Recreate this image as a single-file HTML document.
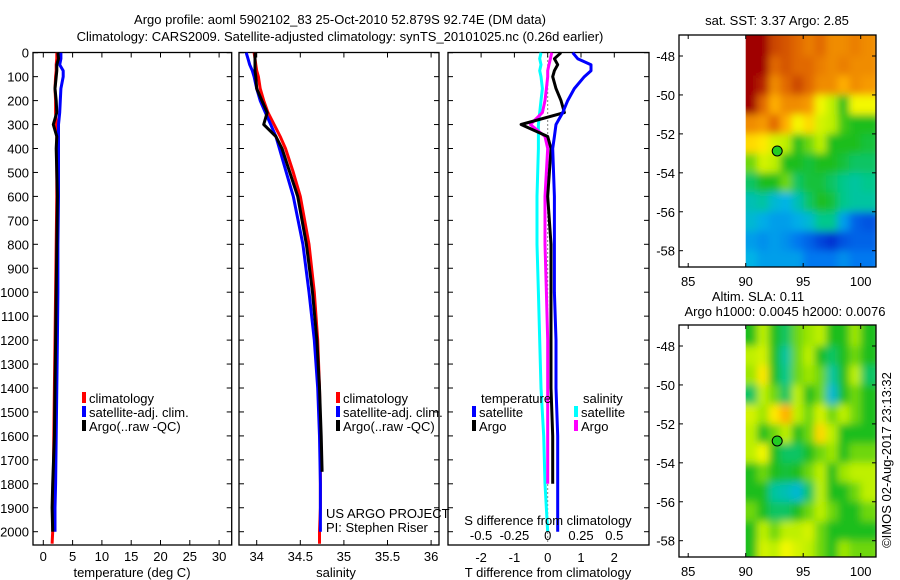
<!DOCTYPE html>
<html><head><meta charset="utf-8"><style>
body{margin:0;background:#fff}
svg{display:block;font-family:"Liberation Sans",sans-serif;font-size:13px}
</style></head><body>
<svg id="c" width="900" height="580" viewBox="0 0 900 580">
<defs>
<clipPath id="cp1"><rect x="745.7" y="35" width="130.3" height="232"/></clipPath>
<clipPath id="cp2"><rect x="745.7" y="325" width="130.3" height="232"/></clipPath>
<filter id="bl" x="-20%" y="-20%" width="140%" height="140%"><feGaussianBlur stdDeviation="4"/></filter>
</defs>
<text x="340" y="24" text-anchor="middle">Argo profile: aoml 5902102_83 25-Oct-2010 52.879S 92.74E (DM data)</text>
<text x="340" y="41" text-anchor="middle">Climatology: CARS2009. Satellite-adjusted climatology: synTS_20101025.nc (0.26d earlier)</text>
<g id="g"></g>
</svg>
<script>
const depths=[0,25,50,75,100,150,200,250,300,350,400,500,600,800,1000,1200,1400,1600,1800,1900,2000,2050];
const climT=[2.3,2.3,2.2,2.2,2.1,2.0,2.1,2.1,2.2,2.3,2.3,2.3,2.3,2.2,2.1,2.0,1.9,1.8,1.7,1.6,1.6,1.5];
const satT=[3.0,3.0,2.8,3.4,3.4,3.0,2.9,2.8,2.6,2.6,2.6,2.6,2.6,2.5,2.5,2.4,2.3,2.2,2.1,2.0,2.0];
const argoT=[2.5,2.6,2.3,2.3,2.2,2.0,2.2,2.3,1.7,2.3,2.2,2.3,2.4,2.3,2.2,2.1,2.0,1.9,1.6,1.5,1.6];
const climS=[33.97,33.98,33.99,34.0,34.02,34.04,34.08,34.13,34.2,34.27,34.33,34.42,34.5,34.6,34.66,34.7,34.72,34.73,34.73,34.73,34.72,34.72];
const satS=[33.88,33.9,33.92,33.95,33.97,34.0,34.04,34.1,34.16,34.22,34.26,34.34,34.42,34.53,34.6,34.66,34.7,34.72,34.73,34.73,34.73];
const argoS=[33.98,33.98,33.98,33.98,33.99,34.0,34.06,34.12,34.08,34.22,34.29,34.38,34.47,34.57,34.64,34.69,34.72,34.74,34.75];
const dDepths=[0,25,50,75,100,150,200,250,300,350,400,600,800,1000,1200,1400,1600,1800,2000];
const dTsat=[0.75,0.9,1.3,1.3,1.1,0.8,0.6,0.45,0.25,0.2,0.15,0.2,0.2,0.2,0.25,0.25,0.3,0.3,0.3];
const dTargo=[0.4,0.2,0.3,0.2,0.15,0.25,0.4,0.5,-0.8,0.0,0.1,0.0,0.1,0.1,0.1,0.1,0.15,0.15];
const dSsat=[-0.05,-0.06,-0.05,-0.06,-0.05,-0.04,-0.05,-0.06,-0.07,-0.07,-0.07,-0.08,-0.08,-0.07,-0.06,-0.05,-0.03,-0.02,0];
const dSargo=[0.03,0.02,0.01,0.0,0.0,-0.01,-0.02,-0.04,-0.13,-0.02,0.0,-0.02,-0.02,-0.01,0.0,0.0,0.0,0.0];
const depthTicks=[0,100,200,300,400,500,600,700,800,900,1000,1100,1200,1300,1400,1500,1600,1700,1800,1900,2000];
const tTicks=[0,5,10,15,20,25,30];
const sTicks=[34,34.5,35,35.5,36];
const sTickLabels=["34","34.5","35","35.5","36"];
const dTTicks=[-2,-1,0,1,2];
const dSTicks=[-0.5,-0.25,0,0.25,0.5];
const dSTickLabels=["-0.5","-0.25","0","0.25","0.5"];
const lonTicks=[85,90,95,100];
const latTicks=[-48,-50,-52,-54,-56,-58];
const sstGrid=[
[1,1,0.9,0.88,0.85,0.82,0.85,0.8,0.8,0.82,0.8],
[1,1,0.85,0.88,0.85,0.85,0.82,0.8,0.82,0.8,0.8],
[1,0.95,0.8,0.85,0.9,0.85,0.8,0.8,0.75,0.8,0.78],
[1,0.85,0.75,0.8,0.8,0.78,0.65,0.6,0.5,0.65,0.65],
[0.8,0.78,0.85,0.75,0.65,0.7,0.62,0.6,0.52,0.5,0.5],
[0.7,0.68,0.62,0.6,0.5,0.55,0.6,0.5,0.5,0.5,0.48],
[0.55,0.62,0.6,0.5,0.5,0.48,0.5,0.5,0.48,0.45,0.45],
[0.45,0.5,0.5,0.55,0.45,0.48,0.48,0.45,0.42,0.4,0.42],
[0.38,0.4,0.35,0.33,0.38,0.45,0.5,0.48,0.42,0.4,0.4],
[0.35,0.32,0.3,0.3,0.32,0.35,0.42,0.42,0.3,0.22,0.2],
[0.3,0.28,0.3,0.28,0.25,0.22,0.18,0.15,0.2,0.22,0.22],
[0.33,0.3,0.3,0.3,0.3,0.25,0.25,0.25,0.28,0.25,0.25]];
const slaGrid=[
[0.5,0.6,0.5,0.45,0.55,0.58,0.6,0.5,0.5,0.58,0.5],
[0.6,0.62,0.5,0.4,0.55,0.6,0.5,0.45,0.5,0.55,0.5],
[0.58,0.68,0.5,0.42,0.55,0.58,0.55,0.4,0.5,0.6,0.45],
[0.45,0.6,0.55,0.45,0.6,0.5,0.55,0.35,0.5,0.55,0.5],
[0.62,0.58,0.68,0.75,0.6,0.55,0.62,0.55,0.6,0.55,0.5],
[0.6,0.5,0.55,0.6,0.5,0.55,0.7,0.6,0.5,0.5,0.5],
[0.6,0.65,0.5,0.45,0.45,0.5,0.55,0.58,0.5,0.55,0.55],
[0.5,0.55,0.5,0.48,0.5,0.55,0.6,0.5,0.58,0.6,0.6],
[0.5,0.5,0.4,0.38,0.35,0.45,0.6,0.5,0.5,0.55,0.6],
[0.55,0.5,0.45,0.45,0.5,0.55,0.6,0.55,0.5,0.5,0.55],
[0.5,0.6,0.55,0.6,0.6,0.62,0.55,0.5,0.5,0.5,0.5],
[0.5,0.62,0.6,0.65,0.62,0.6,0.55,0.5,0.58,0.55,0.55]];
const argoLon=92.74, argoLat=-52.879;

const NS="http://www.w3.org/2000/svg";
const G=document.getElementById('g');
function mk(t,a,p){const e=document.createElementNS(NS,t);for(const k in a)e.setAttribute(k,a[k]);(p||G).appendChild(e);return e;}
const yD=d=>52.7+d*0.2395;
const PB=545;
const xT=v=>43.3+v*5.86;
const xS=v=>256.7+(v-34)*87.2;
const xdT=v=>547.7+v*33.3;
const xdS=v=>547.7+v*133.2;

function frame(x0,x1,name){
  const r=mk('rect',{x:x0,y:52.5,width:x1-x0,height:PB-52.5,fill:'none',stroke:'#000','stroke-width':1.3});
  
  
}
function yTicks(x0,x1,labels){
  depthTicks.forEach(d=>{
    const y=yD(d);
    mk('line',{x1:x0,x2:x0+5,y1:y,y2:y,stroke:'#000'});
    mk('line',{x1:x1,x2:x1-5,y1:y,y2:y,stroke:'#000'});
    if(labels){const t=mk('text',{x:x0-4,y:y+5,'text-anchor':'end'});t.textContent=d;
      
      }
  });
}
function xTicks(vals,labs,fx,ly,tick){
  vals.forEach((v,i)=>{
    const x=fx(v);
    if(tick){mk('line',{x1:x,x2:x,y1:PB,y2:PB-5,stroke:'#000'});mk('line',{x1:x,x2:x,y1:52.5,y2:57.5,stroke:'#000'});}
    const t=mk('text',{x:x,y:ly,'text-anchor':'middle'});t.textContent=labs[i];
    
    
  });
}
function line(ds,vs,fx,col,name,w){
  const n=Math.min(ds.length,vs.length);let pts=[];
  for(let i=0;i<n;i++)pts.push(fx(vs[i]).toFixed(1)+','+yD(ds[i]).toFixed(1));
  const p=mk('polyline',{points:pts.join(' '),fill:'none',stroke:col,'stroke-width':w||3,'stroke-linejoin':'round'});
  
  
}
function txt(x,y,s,name,anchor){const t=mk('text',{x:x,y:y,'text-anchor':anchor||'start'});t.textContent=s;
  
  return t;}
function legend(x,y,col,s,name){mk('rect',{x:x,y:y-11,width:4,height:11,fill:col});txt(x+7,y,s,name);}

frame(33,231.7,'temperature-panel');
yTicks(33,231.7,true);
xTicks(tTicks,tTicks,xT,561,true);
line(depths,climT,xT,'#f00','climatology-temperature-line');
line(depths,satT,xT,'#00f','satellite-temperature-line');
line(depths,argoT,xT,'#000','argo-temperature-line');
txt(132,577,'temperature (deg C)','temperature-axis-title','middle');
legend(82,403,'#f00','climatology','legend-climatology');
legend(82,417,'#00f','satellite-adj. clim.','legend-satellite');
legend(82,431,'#000','Argo(..raw -QC)','legend-argo');

frame(239,439,'salinity-panel');
yTicks(239,439,false);
xTicks(sTicks,sTickLabels,xS,561,true);
line(depths,climS,xS,'#f00','climatology-salinity-line');
line(depths,satS,xS,'#00f','satellite-salinity-line');
line(depths.slice(0,argoS.length-1).concat([1750]),argoS,xS,'#000','argo-salinity-line');
txt(336,577,'salinity','salinity-axis-title','middle');
legend(336,403,'#f00','climatology','legend-climatology-2');
legend(336,417,'#00f','satellite-adj. clim.','legend-satellite-2');
legend(336,431,'#000','Argo(..raw -QC)','legend-argo-2');
txt(326,518,'US ARGO PROJECT','project-label');
txt(326,532,'PI: Stephen Riser','pi-label');

frame(448,649,'difference-panel');
depthTicks.forEach(d=>{const y=yD(d);mk('line',{x1:448,x2:453,y1:y,y2:y,stroke:'#000'});mk('line',{x1:649,x2:644,y1:y,y2:y,stroke:'#000'});});
dTTicks.forEach(v=>{const x=xdT(v);mk('line',{x1:x,x2:x,y1:52.5,y2:57.5,stroke:'#000'});});
mk('line',{x1:xdT(0),x2:xdT(0),y1:52.5,y2:PB,stroke:'#000','stroke-dasharray':'1,3'});
line(dDepths,dSsat,xdS,'#0ff','satellite-salinity-difference-line');
line(dDepths,dSargo,xdS,'#f0f','argo-salinity-difference-line');
line(dDepths,dTargo,xdT,'#000','argo-temperature-difference-line');
line(dDepths,dTsat,xdT,'#00f','satellite-temperature-difference-line');
xTicks(dSTicks,dSTickLabels,xdS,540,false);
xTicks(dTTicks,dTTicks,xdT,562,false);
txt(548,525,'S difference from climatology','s-difference-axis-title','middle');
txt(548,577,'T difference from climatology','t-difference-axis-title','middle');
txt(481,403,'temperature','legend-temperature-header');
legend(472,417,'#00f','satellite','legend-temp-satellite');
legend(472,431,'#000','Argo','legend-temp-argo');
txt(583,403,'salinity','legend-salinity-header');
legend(574,417,'#0ff','satellite','legend-sal-satellite');
legend(574,431,'#f0f','Argo','legend-sal-argo');

const cmapStops=[[0,[0,0,160]],[0.15,[0,50,210]],[0.25,[0,120,240]],[0.33,[0,180,230]],[0.42,[0,200,140]],[0.5,[30,190,30]],[0.6,[190,240,0]],[0.66,[255,250,0]],[0.75,[255,175,0]],[0.85,[225,105,0]],[1,[160,0,0]]];
function cmap(v){
  v=Math.max(0,Math.min(1,v));
  for(let i=1;i<cmapStops.length;i++){
    const [a,ca]=cmapStops[i-1],[b,cb]=cmapStops[i];
    if(v<=b){const t=(v-a)/(b-a);return 'rgb('+ca.map((c,k)=>Math.round(c+(cb[k]-c)*t)).join(',')+')';}
  }
  return 'rgb(160,0,0)';
}
function map(top,lat48y,grid,clip,name){
  const x0=679,x1=876,y0=top,y1=top+232;
  const fx=lon=>745.7+(lon-90)*11.5;
  const fy=lat=>lat48y+(-48-lat)*19.47;
  const gg=mk('g',{'clip-path':`url(#${clip})`});
  
  
  const inner=mk('g',{filter:'url(#bl)'},gg);
  grid.forEach((row,i)=>row.forEach((v,j)=>{
    const lat=-47-i, lon=90+j;
    const ext=(j==row.length-1)?8:0, exy=(i==grid.length-1)?8:0, exl=(j==0)?8:0, ext2=(i==0)?12:0;
    const r=mk('rect',{x:fx(lon)-exl,y:fy(lat)-ext2,width:11.5+ext+exl+0.5,height:19.47+exy+ext2+0.5,fill:cmap(v)},inner);
    
    
  }));
  const f=mk('rect',{x:x0,y:y0,width:x1-x0,height:y1-y0,fill:'none',stroke:'#000','stroke-width':1.3});
  
  
  lonTicks.forEach(l=>{const x=fx(l);mk('line',{x1:x,x2:x,y1:y1,y2:y1-4,stroke:'#000'});mk('line',{x1:x,x2:x,y1:y0,y2:y0+4,stroke:'#000'});
    txt(x,y1+19,String(l),'longitude-tick-label','middle');});
  latTicks.forEach(l=>{const y=fy(l);mk('line',{x1:x0,x2:x0+4,y1:y,y2:y,stroke:'#000'});mk('line',{x1:x1,x2:x1-4,y1:y,y2:y,stroke:'#000'});
    txt(x0-4,y+5,String(l),'latitude-tick-label','end');});
  const c=mk('circle',{cx:fx(argoLon),cy:fy(argoLat),r:5,fill:'#2c2',stroke:'#000','stroke-width':1});
  
  
}
map(35,56,sstGrid,'cp1','sst-map');
map(325,346,slaGrid,'cp2','sla-map');
txt(777,25,'sat. SST: 3.37 Argo: 2.85','sst-map-title','middle');
txt(758,301,'Altim. SLA: 0.11','sla-map-title','middle');
txt(785,316,'Argo h1000: 0.0045 h2000: 0.0076','sla-map-subtitle','middle');
const cr=txt(0,0,'©IMOS 02-Aug-2017 23:13:32','imos-credit','middle');
cr.setAttribute('transform','translate(891,460) rotate(-90)');
</script>
</body></html>
